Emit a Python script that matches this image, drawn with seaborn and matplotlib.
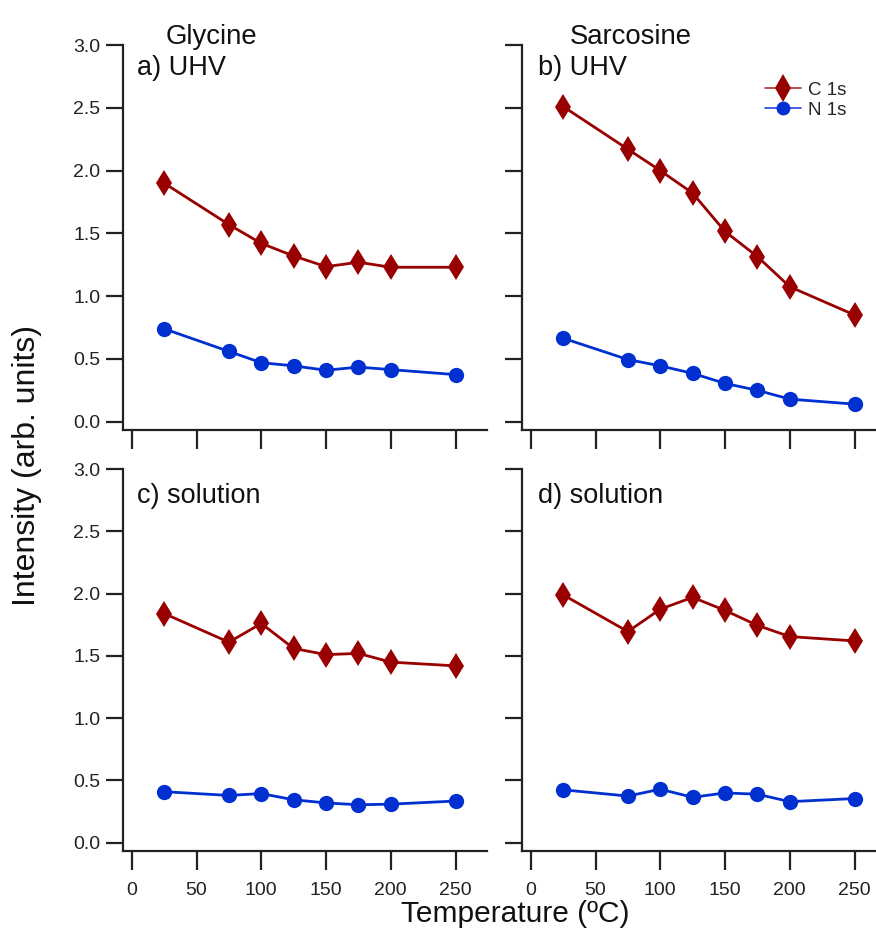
import numpy as np
import pandas as pd
import matplotlib
matplotlib.use("Agg")
import matplotlib.pyplot as plt
import seaborn as sns
from matplotlib.lines import Line2D

temps = [25, 75, 100, 125, 150, 175, 200, 250]

gly_uhv_c = [1.90, 1.57, 1.42, 1.32, 1.235, 1.27, 1.23, 1.23]
gly_uhv_n = [0.74, 0.56, 0.47, 0.445, 0.41, 0.435, 0.415, 0.375]
sar_uhv_c = [2.51, 2.17, 2.00, 1.82, 1.515, 1.315, 1.075, 0.85]
sar_uhv_n = [0.665, 0.495, 0.445, 0.385, 0.305, 0.25, 0.18, 0.14]
gly_sol_c = [1.84, 1.61, 1.76, 1.56, 1.51, 1.52, 1.45, 1.42]
gly_sol_n = [0.41, 0.38, 0.395, 0.345, 0.32, 0.305, 0.31, 0.335]
sar_sol_c = [1.99, 1.695, 1.875, 1.97, 1.865, 1.745, 1.655, 1.62]
sar_sol_n = [0.425, 0.375, 0.43, 0.365, 0.40, 0.39, 0.33, 0.355]

panel_labels = ["a) UHV", "b) UHV", "c) solution", "d) solution"]
column_titles = ["Glycine", "Sarcosine"]
series_names = ["C 1s", "N 1s"]
yticks = [0.0, 0.5, 1.0, 1.5, 2.0, 2.5, 3.0]
xticks = [0, 50, 100, 150, 200, 250]

RED = "#990000"
BLUE = "#0030D0"

sns.set_style("ticks")
plt.rcParams["font.family"] = ["Liberation Sans", "DejaVu Sans"]

W, H = 876, 931
fig = plt.figure(figsize=(W / 100, H / 100), dpi=100)

def px_axes(x0, y0, x1, y1):
    return fig.add_axes([x0 / W, 1 - y1 / H, (x1 - x0) / W, (y1 - y0) / H])

xlim = (-7.0, 274.0)
xscale = 1.295
axes_px = [
    (122.7, 45, 122.7 + (xlim[1] - xlim[0]) * xscale, 430),
    (521.7, 45, 521.7 + (xlim[1] - xlim[0]) * xscale, 430),
    (122.7, 469, 122.7 + (xlim[1] - xlim[0]) * xscale, 851),
    (521.7, 469, 521.7 + (xlim[1] - xlim[0]) * xscale, 851),
]

data = [
    (gly_uhv_c, gly_uhv_n),
    (sar_uhv_c, sar_uhv_n),
    (gly_sol_c, gly_sol_n),
    (sar_sol_c, sar_sol_n),
]

for i, (c_vals, n_vals) in enumerate(data):
    ax = px_axes(*axes_px[i])
    df = pd.DataFrame({
        "T": temps * 2,
        "I": list(c_vals) + list(n_vals),
        "s": [series_names[0]] * len(temps) + [series_names[1]] * len(temps),
    })
    sns.lineplot(data=df[df.s == "C 1s"], x="T", y="I", ax=ax, color=RED,
                 marker="d", markersize=13.5, markeredgewidth=0, linewidth=2,
                 legend=False)
    sns.lineplot(data=df[df.s == "N 1s"], x="T", y="I", ax=ax, color=BLUE,
                 marker="o", markersize=11, markeredgewidth=0, linewidth=2,
                 legend=False)
    ax.set_xlim(*xlim)
    ax.set_ylim(-0.066, 3.0)
    ax.set_xticks(xticks)
    ax.set_yticks(yticks)
    ax.set_yticklabels([f"{v:.1f}" for v in yticks])
    ax.set_xlabel("")
    ax.set_ylabel("")
    for side in ["top", "right"]:
        ax.spines[side].set_visible(False)
    for side in ["left", "bottom"]:
        ax.spines[side].set_linewidth(1.6)
        ax.spines[side].set_color("#222222")
    ax.tick_params(axis="both", direction="out", width=1.6, color="#222222",
                   labelsize=14, labelcolor="#222222")
    ax.tick_params(axis="x", length=14, pad=8)
    ax.tick_params(axis="y", length=12, pad=4)
    if i < 2:
        ax.set_xticklabels([])
    if i % 2 == 1:
        ax.set_yticklabels([])
    ax.text(0.04 if i % 2 == 0 else 0.045, 0.94 if i < 2 else 0.93, panel_labels[i],
            transform=ax.transAxes, fontsize=19.5, color="#111111",
            ha="left", va="center")
    ax.patch.set_alpha(0)
    if i == 1:
        handles = [
            Line2D([], [], color="#B03030", marker="d", markersize=14,
                   markerfacecolor=RED, markeredgewidth=0, linewidth=1.2,
                   label=series_names[0]),
            Line2D([], [], color="#2040E0", marker="o", markersize=10,
                   markerfacecolor=BLUE, markeredgewidth=0, linewidth=1.2,
                   label=series_names[1]),
        ]
        ax.legend(handles=handles, loc="upper left", frameon=False,
                  fontsize=13.5, bbox_to_anchor=((765 - 521.7) / 364, 0.905),
                  borderaxespad=0, borderpad=0,
                  handlelength=1.9, handletextpad=0.4, labelspacing=0.15)

fig.text(211 / W, 1 - 44 / H, column_titles[0], fontsize=19.8, ha="center",
         va="baseline", color="#111111")
fig.text(631 / W, 1 - 44 / H, column_titles[1], fontsize=19.8, ha="center",
         va="baseline", color="#111111")
fig.text(27 / W, 1 - 466 / H, "Intensity (arb. units)", fontsize=23,
         rotation=90, ha="center", va="center", color="#111111")
fig.text(515 / W, 1 - 914 / H, "Temperature (ºC)", fontsize=21.5,
         ha="center", va="center", color="#111111")

fig.savefig("out.png", dpi=100, facecolor="white")
